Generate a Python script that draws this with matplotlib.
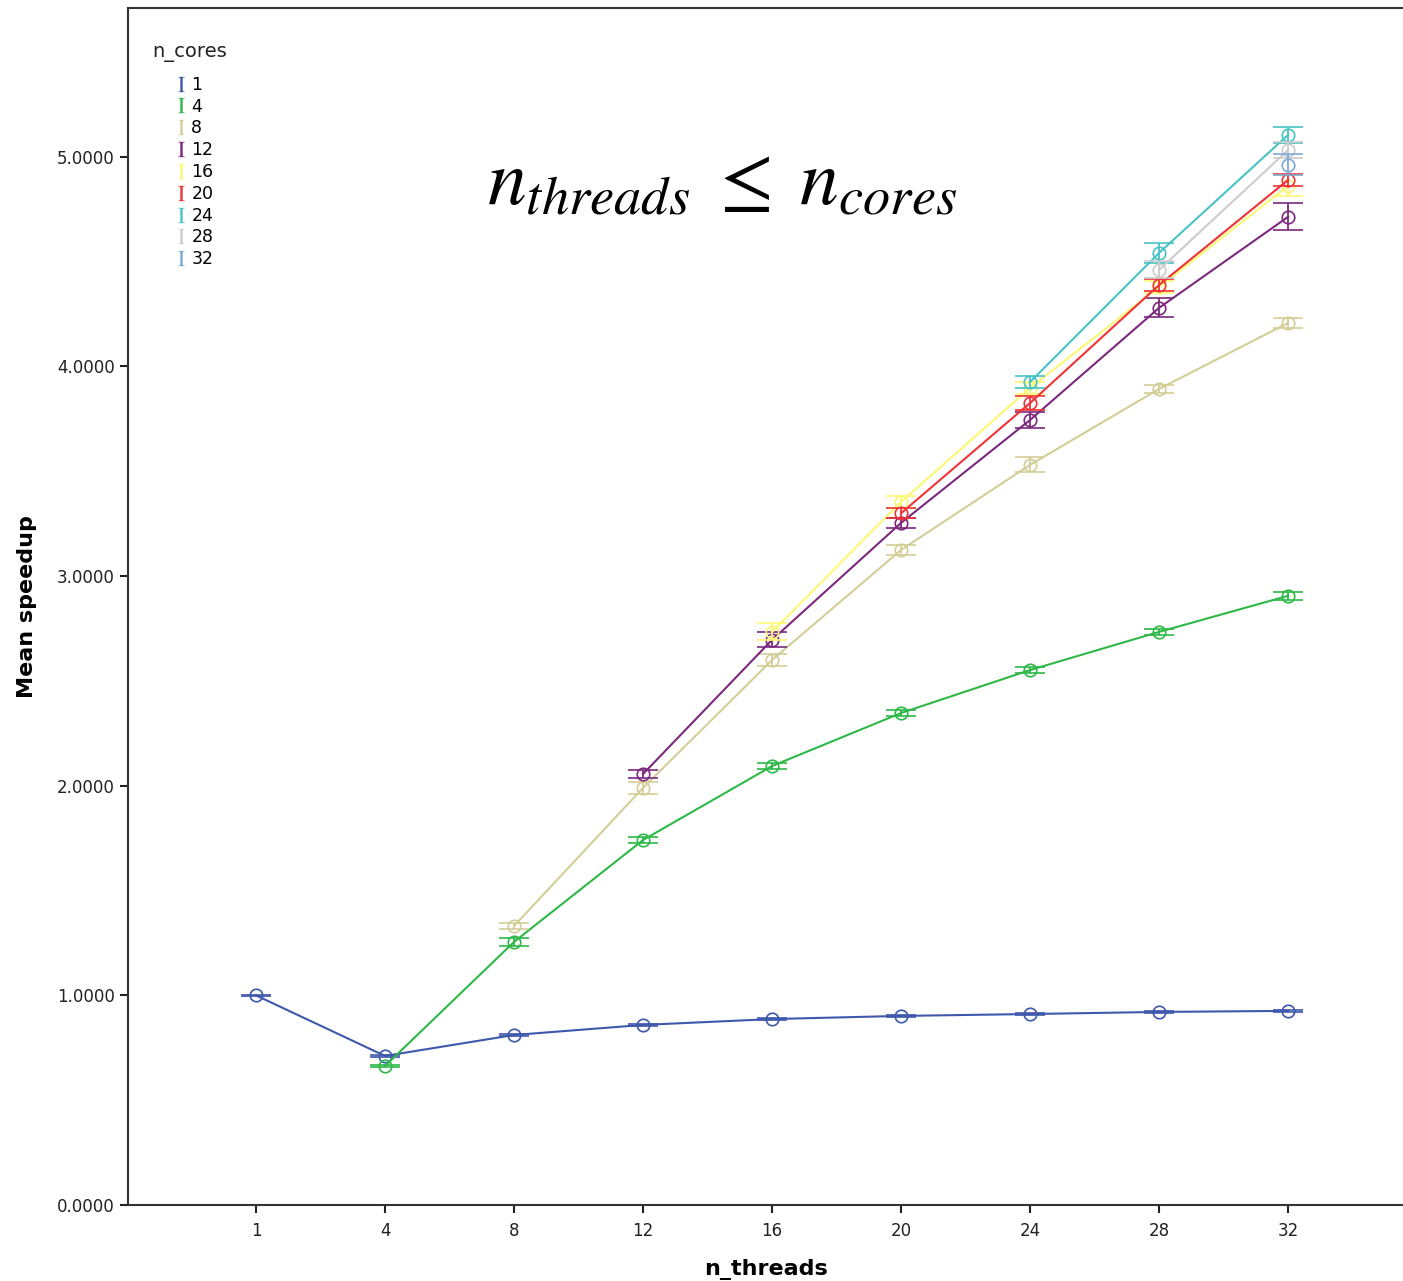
import matplotlib.pyplot as plt
from matplotlib.lines import Line2D

plt.rcParams["font.family"] = ["DejaVu Sans"]
plt.rcParams["mathtext.fontset"] = "stix"

# thread counts on the x axis (categorical)
THREADS = [1, 4, 8, 12, 16, 20, 24, 28, 32]
CORES = [1, 4, 8, 12, 16, 20, 24, 28, 32]
COLORS = ["#3E58AC", "#2EB848", "#D3CE97", "#7C287D", "#FBF873",
          "#EF3338", "#48C2C5", "#CCCCCC", "#7AAAD5"]

# mean speedup per n_cores, for n_threads >= n_cores
speedup_1 = [1.000, 0.711, 0.811, 0.859, 0.887, 0.902, 0.911, 0.921, 0.926]
speedup_4 = [0.663, 1.255, 1.741, 2.094, 2.347, 2.552, 2.734, 2.906]
speedup_8 = [1.331, 1.990, 2.600, 3.125, 3.531, 3.893, 4.208]
speedup_12 = [2.056, 2.696, 3.254, 3.745, 4.280, 4.714]
speedup_16 = [2.734, 3.354, 3.898, 4.380, 4.862]
speedup_20 = [3.300, 3.826, 4.389, 4.890]
speedup_24 = [3.926, 4.542, 5.105]
speedup_28 = [4.461, 5.033]
speedup_32 = [4.962]

# half-width of the error bars
err_1 = [0.003, 0.006, 0.005, 0.004, 0.004, 0.004, 0.004, 0.004, 0.004]
err_4 = [0.005, 0.020, 0.015, 0.015, 0.015, 0.015, 0.015, 0.020]
err_8 = [0.015, 0.030, 0.030, 0.025, 0.035, 0.020, 0.025]
err_12 = [0.020, 0.035, 0.025, 0.040, 0.045, 0.065]
err_16 = [0.040, 0.030, 0.030, 0.030, 0.050]
err_20 = [0.025, 0.035, 0.030, 0.030]
err_24 = [0.030, 0.048, 0.038]
err_28 = [0.040, 0.040]
err_32 = [0.050]

speedups = [speedup_1, speedup_4, speedup_8, speedup_12, speedup_16,
            speedup_20, speedup_24, speedup_28, speedup_32]
errors = [err_1, err_4, err_8, err_12, err_16, err_20, err_24, err_28, err_32]


def main():
    fig = plt.figure(figsize=(14.03, 12.81), dpi=100)
    ax = fig.add_axes([128 / 1403, 76 / 1281, 1 - 128 / 1403, 1197 / 1281])

    for k, (vals, errs) in enumerate(zip(speedups, errors)):
        start = len(THREADS) - len(vals)
        xs = list(range(start, len(THREADS)))
        ax.errorbar(xs, vals, yerr=errs, color=COLORS[k], lw=1.5,
                    marker="o", ms=9, mfc="none", mew=1.2,
                    capsize=11, capthick=1.5, elinewidth=1.3, zorder=2 + k)

    ax.set_xlim(-0.992, 8.89)
    ax.set_ylim(0, 5.71)
    ax.set_xticks(range(len(THREADS)))
    ax.set_xticklabels([str(t) for t in THREADS])
    ax.set_yticks([0, 1, 2, 3, 4, 5])
    ax.set_yticklabels([f"{v:.4f}" for v in [0, 1, 2, 3, 4, 5]])
    ax.tick_params(axis="both", direction="out", length=6, width=1.5,
                   labelsize=12, colors="#222222")
    ax.tick_params(axis="x", pad=6)
    for side in ["left", "bottom", "top"]:
        ax.spines[side].set_linewidth(1.5)
        ax.spines[side].set_color("#333333")
    ax.spines["right"].set_visible(False)

    ax.set_xlabel("n_threads", fontsize=16, fontweight="bold", labelpad=14)
    ax.set_ylabel("Mean speedup", fontsize=16, fontweight="bold", labelpad=14)

    ax.text(0.466, 0.836, r"$n_{threads}\;\leq\;n_{cores}$",
            transform=ax.transAxes, ha="center", va="baseline", fontsize=56)

    # legend: title placed separately so the entries sit indented below it
    fig.text(152 / 1403, 1 - 52 / 1281, "n_cores", fontsize=14,
             va="center", ha="left", color="#222222")
    handles = [Line2D([], [], color=c, ls="none", marker=r"$\mathrm{I}$",
                      ms=11, mew=0)
               for c in COLORS]
    ax.legend(handles, [str(c) for c in CORES], loc="upper left",
              bbox_to_anchor=(167 / 1403, 1 - 67 / 1281),
              bbox_transform=fig.transFigure, frameon=False, fontsize=12.5,
              handlelength=0.6, handletextpad=0.3, labelspacing=0.22,
              borderpad=0)

    fig.savefig("out.png", dpi=100)


if __name__ == "__main__":
    main()
